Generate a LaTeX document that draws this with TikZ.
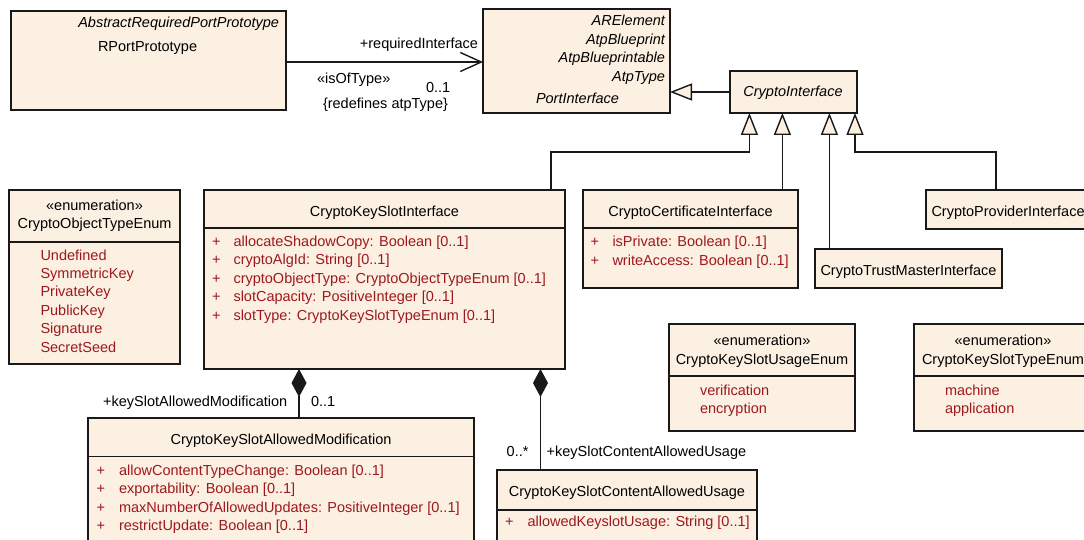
\documentclass[tikz,border=0pt]{standalone}
\usepackage{fontspec}
\setmainfont{Liberation Sans}
\usetikzlibrary{arrows.meta}
\definecolor{boxfill}{RGB}{251,240,226}
\definecolor{attrred}{RGB}{158,24,30}
\definecolor{edgecol}{RGB}{25,25,25}
\begin{document}
\begin{tikzpicture}[x=1pt,y=-1pt,
  box/.style={draw=edgecol,line width=1.4pt,fill=boxfill,inner sep=0pt,outer sep=0pt,anchor=north west},
  txt/.style={inner sep=0pt,outer sep=0pt,font=\fontsize{14.5}{17}\selectfont,text=black},
  lt/.style={txt,anchor=base west},
  rt/.style={txt,anchor=base east},
  ct/.style={txt,anchor=base},
  attrtxt/.style={lt,text=attrred},
  seprule/.style={draw=edgecol,line width=1.4pt},
  conn/.style={draw=edgecol,line width=1.4pt},
  gen/.style={conn,-{Triangle[length=22pt,width=17pt,fill=boxfill]}},
  comp/.style={conn,{Diamond[length=28pt,width=15pt]}-},
  assoc/.style={conn,-{Straight Barb[length=21pt,width=19pt]}},
]
\useasboundingbox (0,0) rectangle (1084,540);

% boxes
\node[box,minimum width=275pt,minimum height=99pt] (rpp) at (11,11) {};
\node[box,minimum width=187pt,minimum height=104pt] (pi) at (483,9) {};
\node[box,minimum width=127pt,minimum height=42pt] (ci) at (730,71) {};
\node[box,minimum width=171pt,minimum height=174pt] (cote) at (9,190) {};
\node[box,minimum width=361pt,minimum height=179pt] (cksi) at (204,190) {};
\node[box,minimum width=215pt,minimum height=98pt] (cci) at (583,190) {};
\node[box,minimum width=187pt,minimum height=39pt] (ctmi) at (815,249) {};
\node[box,minimum width=170pt,minimum height=39pt] (cpi) at (926,190) {};
\node[box,minimum width=186pt,minimum height=107pt] (cksue) at (669,324) {};
\node[box,minimum width=178pt,minimum height=107pt] (ckste) at (914,324) {};
\node[box,minimum width=386pt,minimum height=140pt] (cksam) at (88,418) {};
\node[box,minimum width=260pt,minimum height=90pt] (cksca) at (497,470) {};

% compartment separators
\draw[seprule] (cote.north west) ++(0,52) -- ++(171,0);
\draw[seprule] (cksi.north west) ++(0,38) -- ++(361,0);
\draw[seprule] (cci.north west) ++(0,38) -- ++(215,0);
\draw[seprule] (cksue.north west) ++(0,52) -- ++(186,0);
\draw[seprule] (ckste.north west) ++(0,52) -- ++(178,0);
\draw[seprule] (cksam.north west) ++(0,38.5) -- ++(386,0);
\draw[seprule] (cksca.north west) ++(0,40) -- ++(260,0);

% RPortPrototype
\node[rt] (rppS) at (279,28) {\itshape AbstractRequiredPortPrototype};
\node[lt] (rppN) at (98,52) {RPortPrototype};

% PortInterface
\node[rt] (piS1) at (665,26) {\itshape ARElement};
\node[rt] (piS2) at (665,44.5) {\itshape AtpBlueprint};
\node[rt] (piS3) at (665,63) {\itshape AtpBlueprintable};
\node[rt] (piS4) at (665,81.5) {\itshape AtpType};
\node[lt] (piN) at (536,104) {\itshape PortInterface};

% CryptoInterface
\node[ct] (ciN) at (793,97) {\itshape CryptoInterface};

% CryptoObjectTypeEnum
\node[ct] (coteS) at (94.5,211) {«enumeration»};
\node[ct] (coteN) at (94.5,229) {CryptoObjectTypeEnum};
\foreach \s [count=\i] in {Undefined,SymmetricKey,PrivateKey,PublicKey,Signature,SecretSeed}
  \node[attrtxt] (coteL\i) at (40.5,{260+18.4*(\i-1)}) {\s};

% CryptoKeySlotInterface
\node[ct] (cksiN) at (384.5,216) {CryptoKeySlotInterface};
\foreach \s [count=\i] in {allocateShadowCopy: Boolean [0..1],cryptoAlgId: String [0..1],cryptoObjectType: CryptoObjectTypeEnum [0..1],slotCapacity: PositiveInteger [0..1],slotType: CryptoKeySlotTypeEnum [0..1]}{
  \node[attrtxt] (cksiP\i) at (212,{246+18.5*(\i-1)}) {+};
  \node[attrtxt] (cksiA\i) at (233.5,{246+18.5*(\i-1)}) {\s};
}

% CryptoCertificateInterface
\node[ct] (cciN) at (690.5,216) {CryptoCertificateInterface};
\foreach \s [count=\i] in {isPrivate: Boolean [0..1],writeAccess: Boolean [0..1]}{
  \node[attrtxt] (cciP\i) at (590.5,{246.7+18.5*(\i-1)}) {+};
  \node[attrtxt] (cciA\i) at (612.5,{246.7+18.5*(\i-1)}) {\s};
}

% CryptoTrustMasterInterface, CryptoProviderInterface
\node[lt] (ctmiN) at (820.5,275) {CryptoTrustMasterInterface};
\node[lt] (cpiN) at (931.5,216) {CryptoProviderInterface};

% CryptoKeySlotUsageEnum
\node[ct] (cksueS) at (762,345) {«enumeration»};
\node[ct] (cksueN) at (762,364) {CryptoKeySlotUsageEnum};
\node[attrtxt] (cksueL1) at (700,395) {verification};
\node[attrtxt] (cksueL2) at (700,413.5) {encryption};

% CryptoKeySlotTypeEnum
\node[ct] (ckstesS) at (1003,345) {«enumeration»};
\node[ct] (ckstesN) at (1003,364) {CryptoKeySlotTypeEnum};
\node[attrtxt] (ckstesL1) at (945,395) {machine};
\node[attrtxt] (ckstesL2) at (945,413.5) {application};

% CryptoKeySlotAllowedModification
\node[ct] (cksamN) at (281,444) {CryptoKeySlotAllowedModification};
\foreach \s [count=\i] in {allowContentTypeChange: Boolean [0..1],exportability: Boolean [0..1],maxNumberOfAllowedUpdates: PositiveInteger [0..1],restrictUpdate: Boolean [0..1]}{
  \node[attrtxt] (cksamP\i) at (96.5,{475+18.5*(\i-1)}) {+};
  \node[attrtxt] (cksamA\i) at (119,{475+18.5*(\i-1)}) {\s};
}

% CryptoKeySlotContentAllowedUsage
\node[ct] (ckscaN) at (627,496) {CryptoKeySlotContentAllowedUsage};
\node[attrtxt] (ckscaP1) at (505,526.7) {+};
\node[attrtxt] (ckscaA1) at (527.5,526.7) {allowedKeyslotUsage: String [0..1]};

% association RPortPrototype -> PortInterface
\coordinate (a0) at ([yshift=-1.5pt]rpp.east);
\draw[assoc] (a0) -- (a0 -| pi.west);
\node[rt] (l1) at (478,49) {+requiredInterface};
\node[lt] (l2) at (317,84) {«isOfType»};
\node[lt] (l3) at (426,92.5) {0..1};
\node[lt] (l4) at (323,109) {\{redefines atpType\}};

% generalizations
\draw[gen] (ci.west) -- (ci.west -| pi.east);
\coordinate (t1) at ([xshift=19.4pt]ci.south west);
\coordinate (t2) at ([xshift=52.4pt]ci.south west);
\coordinate (t3) at ([xshift=99.4pt]ci.south west);
\coordinate (t4) at ([xshift=125pt]ci.south west);
\coordinate (g1) at ([xshift=-14pt]cksi.north east);
\coordinate (g4) at ([xshift=70pt]cpi.north west);
\draw[gen] (g1) -- ++(0,-38) -| (t1);
\draw[gen] (cci.north -| t2) -- (t2);
\draw[gen] (ctmi.north -| t3) -- (t3);
\draw[gen] (g4) -- ++(0,-38) -| (t4);

% compositions
\coordinate (m1) at ([xshift=211pt]cksam.north west);
\coordinate (m2) at ([xshift=43.5pt]cksca.north west);
\draw[comp] (m1 |- cksi.south) -- (m1);
\draw[comp] (m2 |- cksi.south) -- (m2);
\node[rt] (l5) at (287.3,406) {+keySlotAllowedModification};
\node[lt] (l6) at (311,406) {0..1};
\node[lt] (l7) at (506.7,456.7) {0..*};
\node[lt] (l8) at (546.7,456.7) {+keySlotContentAllowedUsage};
\end{tikzpicture}
\end{document}
